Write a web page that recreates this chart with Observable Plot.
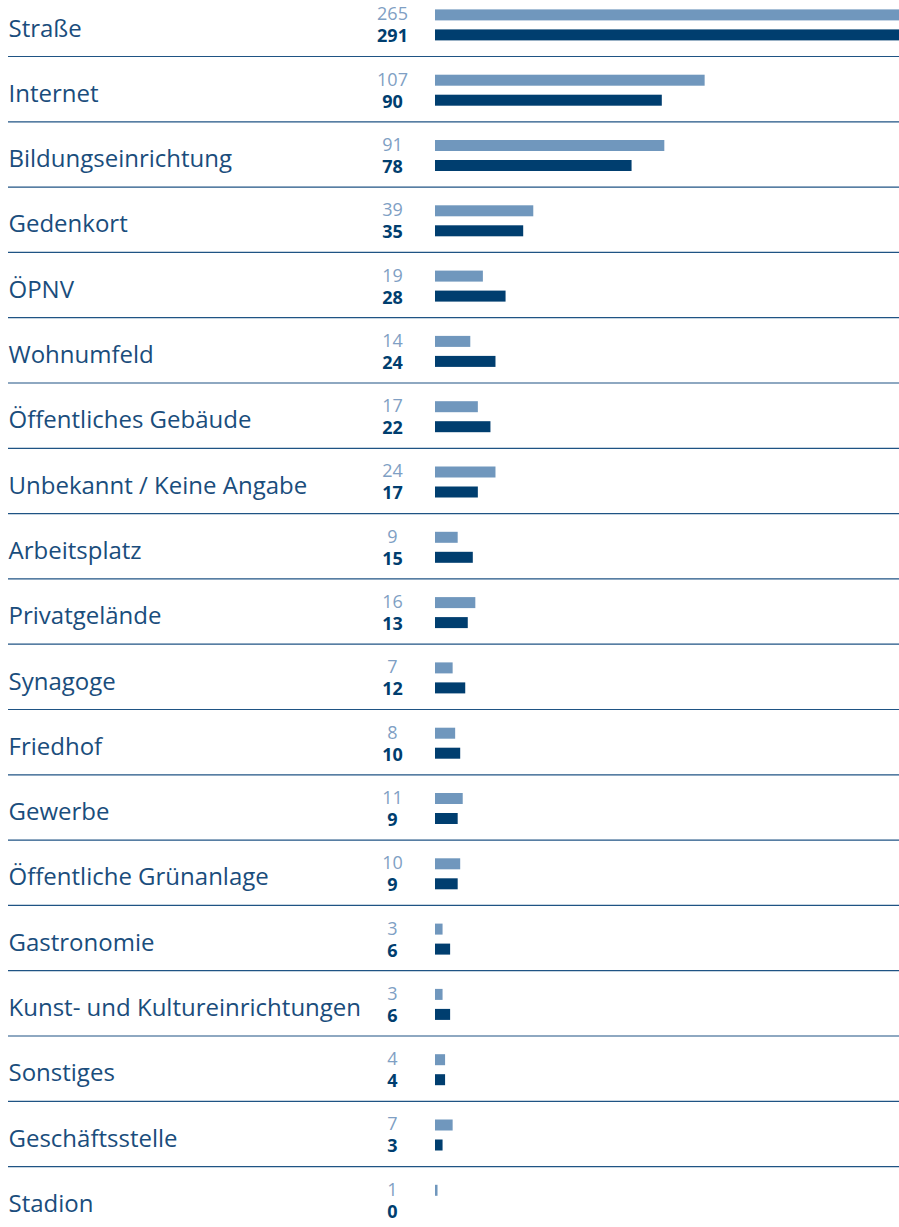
<!DOCTYPE html>
<html>
<head>
<meta charset="utf-8">
<script src="https://cdn.jsdelivr.net/npm/d3@7"></script>
<script src="https://cdn.jsdelivr.net/npm/@observablehq/plot@0.6"></script>
<style>
  html, body { margin: 0; padding: 0; background: #fff; overflow: hidden; }
  #chart svg { display: block; }
</style>
</head>
<body>
<div id="chart"></div>
<script>
const categories = [
  "Straße", "Internet", "Bildungseinrichtung", "Gedenkort", "ÖPNV", "Wohnumfeld",
  "Öffentliches Gebäude", "Unbekannt / Keine Angabe", "Arbeitsplatz", "Privatgelände",
  "Synagoge", "Friedhof", "Gewerbe", "Öffentliche Grünanlage", "Gastronomie",
  "Kunst- und Kultureinrichtungen", "Sonstiges", "Geschäftsstelle", "Stadion"
];
const previousValues = [265, 107, 91, 39, 19, 14, 17, 24, 9, 16, 7, 8, 11, 10, 3, 3, 4, 7, 1];
const currentValues  = [291, 90, 78, 35, 28, 24, 22, 17, 15, 13, 12, 10, 9, 9, 6, 6, 4, 3, 0];

const rows = categories.map((c, i) => ({category: c, previous: previousValues[i], current: currentValues[i]}));

const W = 899, H = 1227;
const bandTop = -9.3, band = 65.3;
const bandBottom = bandTop + band * categories.length;
const pxPerUnit = 2.52;
const barStart = 435;

const colLight = "#7097bd";
const colDark = "#003e6f";
const colText = "#1a4d7c";
const colLightText = "#7f9fc4";
const colRule = "#1f5384";
const font = "'Open Sans', 'Noto Sans', sans-serif";

const chart = Plot.plot({
  width: W,
  height: H,
  marginTop: 0, marginBottom: 0, marginLeft: 0, marginRight: 0,
  style: {fontFamily: font, background: "#fff"},
  x: {domain: [0, (W - barStart) / pxPerUnit], range: [barStart, W], axis: null},
  y: {type: "band", domain: categories, range: [bandTop, bandBottom], padding: 0, round: false, axis: null},
  marks: [
    Plot.ruleY(categories.slice(0, -1), {y: d => d, dy: band / 2, stroke: colRule, strokeWidth: 1.2, insetLeft: 8}),
    Plot.barX(rows, {x: "previous", y: "category", fill: colLight, insetTop: 18.7, insetBottom: band - 29.7, clip: true}),
    Plot.barX(rows, {x: "current", y: "category", fill: colDark, insetTop: 38.7, insetBottom: band - 49.7, clip: true}),
    Plot.text(rows, {y: "category", text: d => String(d.previous), frameAnchor: "left", dx: 392, dy: -9.3,
      textAnchor: "middle", fill: colLightText, fontSize: 18}),
    Plot.text(rows, {y: "category", text: d => String(d.current), frameAnchor: "left", dx: 392, dy: 12.7,
      textAnchor: "middle", fill: colDark, fontSize: 18, fontWeight: "bold"}),
    Plot.text(rows, {y: "category", text: "category", frameAnchor: "left", dx: 8, dy: 5,
      textAnchor: "start", fill: colText, fontSize: 24})
  ]
});
document.getElementById("chart").append(chart);
</script>
</body>
</html>
